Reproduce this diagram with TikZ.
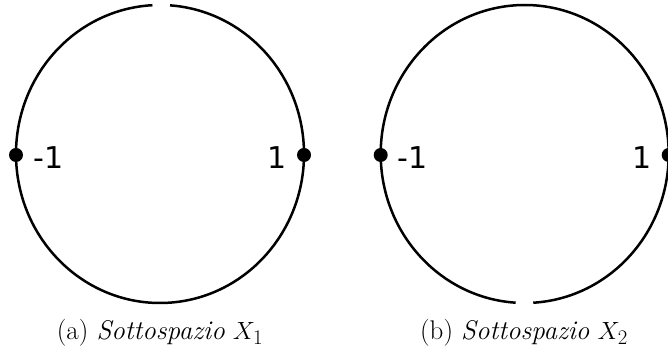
\documentclass[tikz,border=0pt]{standalone}
\usepackage{fontspec}
\newfontfamily\labelfont{DejaVu Sans}
\usepackage{tikz}
\usetikzlibrary{calc}
\DeclareMathSizes{27}{27}{20}{14}

\tikzset{
  loop/.style={line width=2.5pt},
  endpt/.style={circle,fill=black,inner sep=0pt,minimum size=14pt},
  numlbl/.style={inner sep=0pt,font=\fontsize{30}{33}\selectfont\labelfont},
  sublbl/.style={anchor=base,inner sep=0pt,font=\fontsize{27}{31}\selectfont}
}

\begin{document}
\begin{tikzpicture}[x=1pt,y=1pt]
  % --- page frame ---
  \useasboundingbox (0,0) rectangle (668,352);

  % --- left circle: gap at the top ---
  \draw[loop] ($(160,198)+(93:144 and 149)$)
    arc[start angle=93,end angle=446,x radius=144,y radius=149];
  \node[endpt] (mone) at (16,197) {};
  \node[endpt] (pone) at (304,197) {};
  \node[numlbl,anchor=base west] (monelbl) at (33,183) {-1};
  \node[numlbl,anchor=base east] (ponelbl) at (287,183) {1};
  \node[sublbl] (capa) at (160,12) {(a) \textit{Sottospazio} $X_1$};

  % --- right circle: gap at the bottom ---
  \draw[loop] ($(524.7,198)+(273.4:144 and 149)$)
    arc[start angle=273.4,end angle=626.4,x radius=144,y radius=149];
  \node[endpt] (mtwo) at (380.7,197) {};
  \node[endpt] (ptwo) at (668.7,197) {};
  \node[numlbl,anchor=base west] (mtwolbl) at (397,183) {-1};
  \node[numlbl,anchor=base east] (ptwolbl) at (652,183) {1};
  \node[sublbl] (capb) at (524,12) {(b) \textit{Sottospazio} $X_2$};
\end{tikzpicture}
\end{document}
